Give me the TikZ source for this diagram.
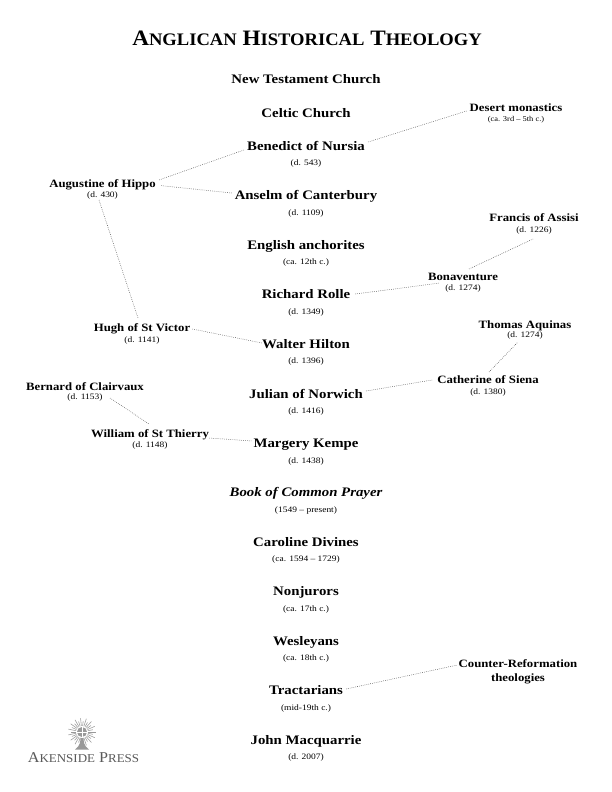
\documentclass[tikz,border=0pt]{standalone}
\usepackage{fontspec}
\setmainfont[FakeStretch=1.14]{Liberation Serif}
\newfontfamily\titlefont[FakeStretch=1.055]{Liberation Serif}
\newfontfamily\logofont[FakeStretch=1.08]{Liberation Serif}
\newcommand{\sm}[1]{\scalebox{.8}{#1}}
\tikzset{
 x=1pt,y=-1pt,
 main/.style={font=\fontsize{13}{14}\selectfont\bfseries,inner sep=1pt,anchor=base},
 side/.style={font=\fontsize{11.2}{14}\selectfont\bfseries,inner sep=1pt,align=center,anchor=base},
 dateline/.style={font=\fontsize{8.3}{9}\selectfont,inner sep=0pt,anchor=base},
 link/.style={line width=0.5pt,black!75,dash pattern=on 0.6pt off 1.3pt},
}
\begin{document}
\begin{tikzpicture}
\useasboundingbox (0,0) rectangle (612,792);
\fill[white] (0,0) rectangle (612,792);
\node[font=\fontsize{22}{24}\selectfont\titlefont\bfseries,anchor=base] (title) at (307,46) {A\sm{NGLICAN} H\sm{ISTORICAL} T\sm{HEOLOGY}};
\node[main] (nt) at (306,84) {New Testament Church};
\node[main] (celtic) at (306,117) {Celtic Church};
\node[main] (benedict) at (306,150) {Benedict of Nursia};
\node[dateline] (d1) at (306,165) {(d. 543)};
\node[main] (anselm) at (306,199) {Anselm of Canterbury};
\node[dateline] (d2) at (306,215) {(d. 1109)};
\node[main] (english) at (306,249) {English anchorites};
\node[dateline] (d3) at (306,264) {(ca. 12th c.)};
\node[main] (rolle) at (306,298) {Richard Rolle};
\node[dateline] (d4) at (306,314) {(d. 1349)};
\node[main] (hilton) at (306,348) {Walter Hilton};
\node[dateline] (d5) at (306,363) {(d. 1396)};
\node[main] (julian) at (306,398) {Julian of Norwich};
\node[dateline] (d6) at (306,413) {(d. 1416)};
\node[main] (kempe) at (306,447) {Margery Kempe};
\node[dateline] (d7) at (306,463) {(d. 1438)};
\node[main,font=\fontsize{13}{14}\selectfont\bfseries\itshape] (bcp) at (306,496) {Book of Common Prayer};
\node[dateline] (d8) at (306,512) {(1549 – present)};
\node[main] (caroline) at (306,546) {Caroline Divines};
\node[dateline] (d9) at (306,561) {(ca. 1594 – 1729)};
\node[main] (nonjurors) at (306,595) {Nonjurors};
\node[dateline] (d10) at (306,611) {(ca. 17th c.)};
\node[main] (wesleyans) at (306,645) {Wesleyans};
\node[dateline] (d11) at (306,660) {(ca. 18th c.)};
\node[main] (tract) at (306,694) {Tractarians};
\node[dateline] (d12) at (306,710) {(mid-19th c.)};
\node[main] (macq) at (306,744) {John Macquarrie};
\node[dateline] (d13) at (306,759) {(d. 2007)};
\node[side] (desert) at (516,111) {Desert monastics};
\node[dateline,font=\fontsize{7.4}{8}\selectfont] (dd) at (516,121) {(ca. 3rd – 5th c.)};
\node[side] (augustine) at (102.5,187) {Augustine of Hippo};
\node[dateline] (da) at (102.5,197) {(d. 430)};
\node[side] (francis) at (534,221) {Francis of Assisi};
\node[dateline] (df) at (534,232) {(d. 1226)};
\node[side] (bona) at (463,280) {Bonaventure};
\node[dateline] (db) at (463,290) {(d. 1274)};
\node[side] (hugh) at (142,331) {Hugh of St Victor};
\node[dateline] (dh) at (142,342) {(d. 1141)};
\node[side] (thomas) at (525,328) {Thomas Aquinas};
\node[dateline] (dthomas) at (525,337.5) {(d. 1274)};
\node[side] (cath) at (488,383) {Catherine of Siena};
\node[dateline] (dc) at (488,394) {(d. 1380)};
\node[side] (bernard) at (85,390) {Bernard of Clairvaux};
\node[dateline] (dbe) at (85,399) {(d. 1153)};
\node[side] (william) at (150,437) {William of St Thierry};
\node[dateline] (dw) at (150,447) {(d. 1148)};
\node[side] (counter) at (518,681) {Counter-Reformation\\theologies};
\draw[link] ([shift={(2,-8)}]benedict.base east) -- ([shift={(-2,0)}]desert.base west);
\draw[link] ([shift={(-2,0)}]benedict.base west) -- ([shift={(2,-7)}]augustine.base east);
\draw[link] ([shift={(-2,-6)}]anselm.base west) -- ([shift={(3,-1.5)}]augustine.base east);
\draw[link] ([shift={(-3.5,3)}]da.base) -- ([shift={(-4,-13)}]hugh.base);
\draw[link] ([shift={(1,-2)}]hugh.base east) -- ([shift={(1,-5)}]hilton.base west);
\draw[link] ([shift={(4,-4)}]rolle.base east) -- ([shift={(13,3)}]bona.base west);
\draw[link] ([shift={(6,-11)}]bona.base) -- ([shift={(-1,7)}]df.base);
\draw[link] ([shift={(2,-7)}]julian.base east) -- ([shift={(-4,-3)}]cath.base west);
\draw[link] ([shift={(1,-11)}]cath.base) -- ([shift={(-7,4.5)}]dthomas.base);
\draw[link] ([shift={(25,-1)}]dbe.base) -- ([shift={(-1,-13)}]william.base);
\draw[link] ([shift={(-1,1)}]william.base east) -- ([shift={(0,-6)}]kempe.base west);
\draw[link] ([shift={(2,-5)}]tract.base east) -- ([shift={(0,-16)}]counter.base west);
% Akenside Press logo
\begin{scope}[shift={(82,732)}]
 \foreach \a in {0,12,...,348}{\draw[black!40,line width=.55pt] (0,0) -- (\a:{mod(\a,24)==0?14:11});}
 \fill[black!40] (-7,17.5) .. controls (-2,14) and (-1.5,10) .. (-1.5,5) -- (1.5,5) .. controls (1.5,10) and (2,14) .. (7,17.5) -- cycle;
 \fill[white] (0,0) circle (6);
 \fill[black!40] (0,0) circle (5);
 \draw[white,line width=.7pt] (-5,0) -- (5,0) (0,-5) -- (0,5);
\end{scope}
\node[anchor=base,inner sep=0pt,text=black!65,font=\fontsize{15}{16}\selectfont\logofont] (logo) at (83.5,762) {A\sm{KENSIDE} P\sm{RESS}};
\end{tikzpicture}
\end{document}
